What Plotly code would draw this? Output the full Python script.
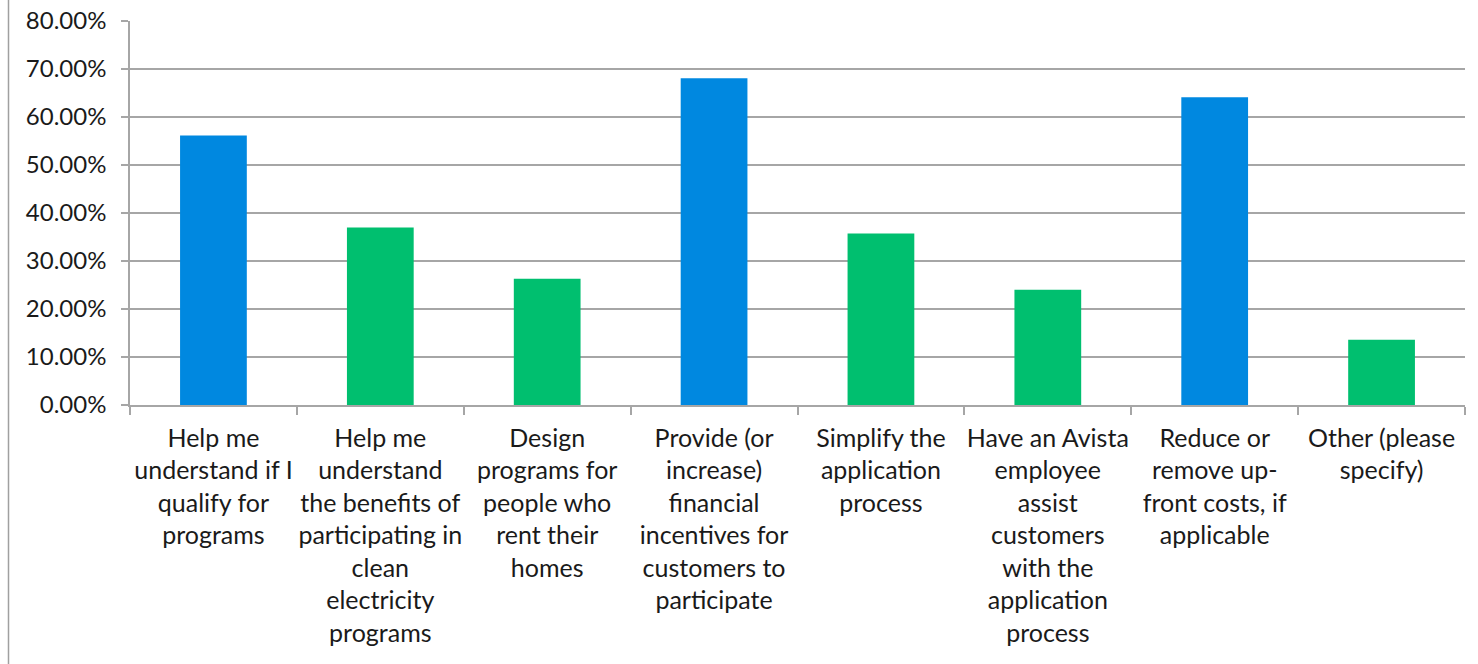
import plotly.graph_objects as go

# Survey responses: what would help customers take part in programs
categories = [
    "Help me<br>understand if I<br>qualify for<br>programs",
    "Help me<br>understand<br>the benefits of<br>participating in<br>clean<br>electricity<br>programs",
    "Design<br>programs for<br>people who<br>rent their<br>homes",
    "Provide (or<br>increase)<br>financial<br>incentives for<br>customers to<br>participate",
    "Simplify the<br>application<br>process",
    "Have an Avista<br>employee<br>assist<br>customers<br>with the<br>application<br>process",
    "Reduce or<br>remove up-<br>front costs, if<br>applicable",
    "Other (please<br>specify)",
]
shares = [0.5617, 0.3700, 0.2630, 0.6806, 0.3575, 0.2400, 0.6410, 0.1360]
highlighted = [True, False, False, True, False, False, True, False]

BLUE = "#0088E0"
GREEN = "#00BF6F"
GRID = "#A6A6A6"
FONT = "Lato"
TEXT = "#1a1a1a"

bar_colors = [BLUE if h else GREEN for h in highlighted]

fig = go.Figure(
    go.Bar(
        x=categories,
        y=shares,
        marker=dict(color=bar_colors, line=dict(width=0)),
        width=0.4,
        hoverinfo="x+y",
    )
)

fig.update_layout(
    width=1478,
    height=664,
    margin=dict(l=130, r=13, t=21, b=259, autoexpand=False),
    paper_bgcolor="white",
    plot_bgcolor="white",
    showlegend=False,
    font=dict(family=FONT, size=24, color=TEXT),
)

fig.update_yaxes(
    range=[0, 0.8],
    dtick=0.1,
    tickformat=".2%",
    automargin=False,
    showgrid=True,
    gridcolor=GRID,
    gridwidth=1.5,
    showline=True,
    linecolor=GRID,
    linewidth=1.5,
    ticks="outside",
    ticklen=7,
    tickcolor=GRID,
    tickwidth=1.5,
    ticklabelstandoff=10,
    zeroline=False,
    tickfont=dict(family=FONT, size=24, color=TEXT),
    fixedrange=True,
)

fig.update_xaxes(
    automargin=False,
    showline=True,
    linecolor=GRID,
    linewidth=1.5,
    ticks="outside",
    tickson="boundaries",
    ticklen=8,
    tickcolor=GRID,
    tickwidth=1.5,
    tickangle=0,
    ticklabelstandoff=10,
    tickfont=dict(family=FONT, size=25, color=TEXT),
    fixedrange=True,
)

# Chart-area frame edge on the left
fig.add_shape(
    type="line",
    xref="paper",
    yref="paper",
    x0=(8.5 - 130) / 1335,
    x1=(8.5 - 130) / 1335,
    y0=-1,
    y1=2,
    line=dict(color="#A0A0A0", width=1.5),
)

fig.write_html("out.html")
